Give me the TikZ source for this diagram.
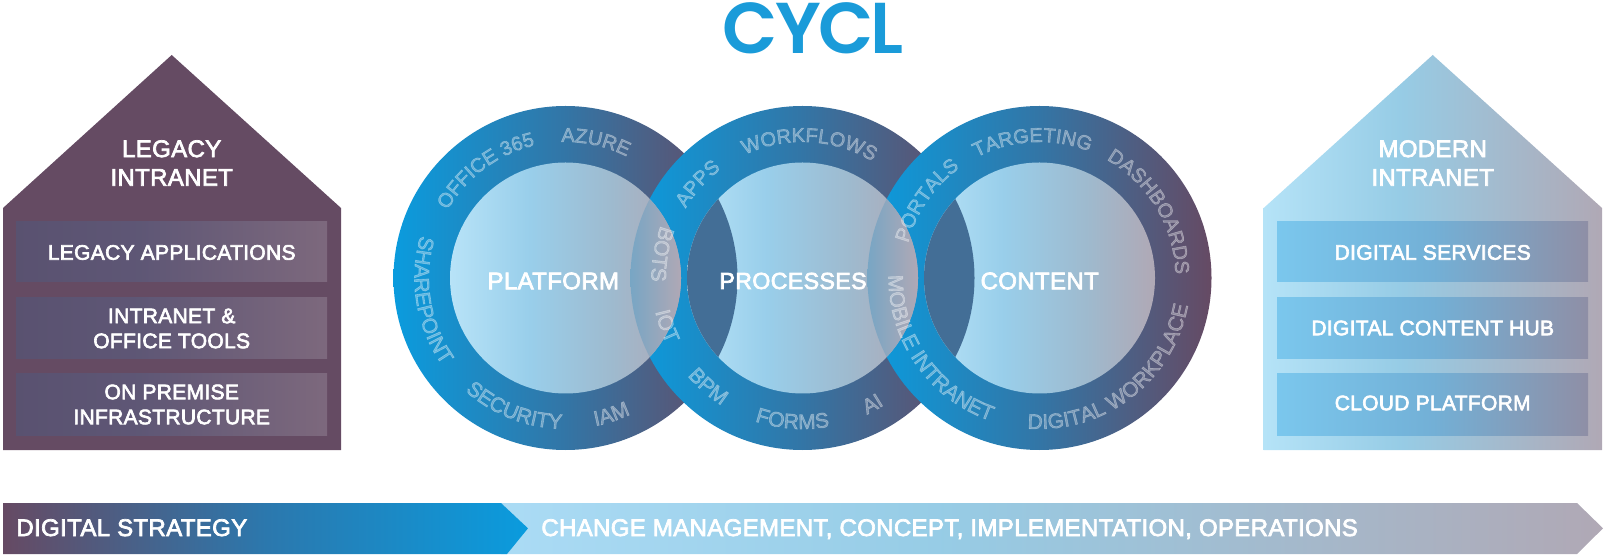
\documentclass[tikz,border=0pt]{standalone}
\usepackage{fontspec}
\usetikzlibrary{decorations.text,calc}
\setmainfont{Liberation Sans}
\newfontfamily\labelfont[LetterSpace=1.5,FakeBold=3]{Liberation Sans}
\newfontfamily\ringfont[FakeBold=3]{Liberation Sans}
\newfontfamily\titlefont[LetterSpace=-4]{Poppins SemiBold}
\definecolor{plum}{HTML}{654B63}
\definecolor{titleblue}{HTML}{1A9BD9}
\definecolor{crescent}{HTML}{436E96}
\pgfdeclarehorizontalshading{ringshade}{100bp}{rgb(0bp)=(0.04,0.61,0.87);rgb(25bp)=(0.04,0.61,0.87);rgb(50bp)=(0.20,0.46,0.65);rgb(75bp)=(0.40,0.29,0.39);rgb(100bp)=(0.40,0.29,0.39)}
\pgfdeclarehorizontalshading{innershade}{100bp}{rgb(0bp)=(0.72,0.89,0.97);rgb(25bp)=(0.72,0.89,0.97);rgb(42bp)=(0.60,0.81,0.92);rgb(60bp)=(0.62,0.73,0.81);rgb(75bp)=(0.69,0.66,0.71);rgb(100bp)=(0.69,0.66,0.71)}
\pgfdeclarehorizontalshading{lensshade}{100bp}{rgb(0bp)=(0.47,0.65,0.77);rgb(25bp)=(0.47,0.65,0.77);rgb(64bp)=(0.47,0.65,0.77);rgb(75bp)=(0.69,0.66,0.71);rgb(100bp)=(0.69,0.66,0.71)}
\pgfdeclarehorizontalshading{houseLshade}{100bp}{rgb(0bp)=(0.35,0.32,0.44);rgb(25bp)=(0.35,0.32,0.44);rgb(45bp)=(0.37,0.34,0.46);rgb(75bp)=(0.49,0.41,0.49);rgb(100bp)=(0.49,0.41,0.49)}
\pgfdeclarehorizontalshading{houseRshade}{100bp}{rgb(0bp)=(0.71,0.89,0.97);rgb(25bp)=(0.71,0.89,0.97);rgb(45bp)=(0.59,0.80,0.90);rgb(75bp)=(0.69,0.66,0.71);rgb(100bp)=(0.69,0.66,0.71)}
\pgfdeclarehorizontalshading{panelRshade}{100bp}{rgb(0bp)=(0.48,0.78,0.93);rgb(25bp)=(0.48,0.78,0.93);rgb(50bp)=(0.45,0.69,0.84);rgb(75bp)=(0.56,0.56,0.65);rgb(100bp)=(0.56,0.56,0.65)}
\pgfdeclarehorizontalshading{arrowBshade}{100bp}{rgb(0bp)=(0.40,0.29,0.39);rgb(25bp)=(0.40,0.29,0.39);rgb(50bp)=(0.17,0.47,0.68);rgb(75bp)=(0.04,0.61,0.87);rgb(100bp)=(0.04,0.61,0.87)}
\pgfdeclarehorizontalshading{arrowLshade}{100bp}{rgb(0bp)=(0.67,0.86,0.96);rgb(25bp)=(0.67,0.86,0.96);rgb(45bp)=(0.59,0.80,0.90);rgb(75bp)=(0.69,0.66,0.71);rgb(100bp)=(0.69,0.66,0.71)}
\tikzset{
  x=0.5pt,y=0.5pt,
  lbl/.style={text=white,align=center,inner sep=0pt,font=\labelfont\fontsize{12}{14.3}\selectfont},
  panellbl/.style={text=white,align=center,inner sep=0pt,font=\labelfont\fontsize{10.5}{12.5}\selectfont},
  ringlabel/.style={decorate,decoration={text along path,text align=center,text={|\ringfont\fontsize{10.5}{12}\selectfont\color{white}|#1}}},
  ringtoplabel/.style={decorate,decoration={text along path,text align=center,text={|\ringfont\fontsize{10}{12}\selectfont\color{white}|#1}}},
}
\newcommand{\outerdisc}[1]{(#1) circle[radius=172]}
\newcommand{\innerdisc}[1]{(#1) circle[radius=115.5]}
\newcommand{\cwtext}[4]{\path[ringtoplabel={#4}] ($(#1)+(#3:136)$) arc[start angle=#3,end angle=#2,radius=136];}
\newcommand{\cctext}[4]{\path[ringlabel={#4}] ($(#1)+(#2:151)$) arc[start angle=#2,end angle=#3,radius=151];}
\begin{document}
\begin{tikzpicture}
\useasboundingbox (0,0) rectangle (1605,557);
\coordinate (cA) at (565.5,279);
\coordinate (cB) at (802.5,279);
\coordinate (cC) at (1039.5,279);
% title
\node[inner sep=0pt,text=titleblue,font=\titlefont\fontsize{36}{40}\selectfont] (title) at (813,529) {CYCL};
% left house
\path[fill=plum] (3,107) -- (3,349) -- (171.7,502) -- (341,349) -- (341,107) -- cycle;
\foreach \yb/\yt in {275/335,198/259,122/183}
  \shade[shading=houseLshade] (16,\yb) rectangle (327,\yt);
\node[lbl] (legacy) at (171.7,394) {LEGACY\\INTRANET};
\node[panellbl] (lapps) at (171.7,304.5) {LEGACY APPLICATIONS};
\node[panellbl] (ltools) at (171.7,228.5) {INTRANET \&\\OFFICE TOOLS};
\node[panellbl] (lprem) at (171.7,152.5) {ON PREMISE\\INFRASTRUCTURE};
% right house
\shade[shading=houseRshade] (1263.7,107) -- (1263.7,349) -- (1432.7,502) -- (1602,349) -- (1602,107) -- cycle;
\foreach \yb/\yt in {275/335,198/259,122/183}
  \shade[shading=panelRshade] (1277,\yb) rectangle (1588,\yt);
\node[lbl] (modern) at (1432.7,394) {MODERN\\INTRANET};
\node[panellbl] (rserv) at (1432.7,304.5) {DIGITAL SERVICES};
\node[panellbl] (rhub) at (1432.7,229) {DIGITAL CONTENT HUB};
\node[panellbl] (rcloud) at (1432.7,154) {CLOUD PLATFORM};
% rings
\shade[shading=ringshade] \outerdisc{cA};
\shade[shading=ringshade] \outerdisc{cB};
\shade[shading=ringshade] \outerdisc{cC};
% inner discs
\shade[shading=innershade] \innerdisc{cA};
\shade[shading=innershade] \innerdisc{cB};
\shade[shading=innershade] \innerdisc{cC};
% crescents
\begin{scope}
  \clip \innerdisc{cB};
  \fill[crescent] \outerdisc{cA};
\end{scope}
\begin{scope}
  \clip \innerdisc{cC};
  \fill[crescent] \outerdisc{cB};
\end{scope}
% lenses
\begin{scope}
  \clip \outerdisc{cB};
  \shade[shading=lensshade] \innerdisc{cA};
\end{scope}
\begin{scope}
  \clip \outerdisc{cC};
  \shade[shading=lensshade] \innerdisc{cB};
\end{scope}
% ring words
\begin{scope}[opacity=.32,text opacity=.32]
\cwtext{cA}{103}{150}{OFFICE 365}
\cwtext{cA}{60}{95}{AZURE}
\cctext{cA}{160}{219}{SHAREPOINT}
\cctext{cA}{225}{272}{SECURITY}
\cctext{cA}{276}{301}{IAM}
\cctext{cB}{155}{186}{BOTS}
\cctext{cB}{188}{211}{IOT}
\cwtext{cB}{124}{152}{APPS}
\cwtext{cB}{57}{117}{WORKFLOWS}
\cctext{cB}{215}{243}{BPM}
\cctext{cB}{248}{284}{FORMS}
\cctext{cB}{289}{309}{AI}
\cwtext{cC}{124}{167}{PORTALS}
\cwtext{cC}{66}{120}{TARGETING}
\cwtext{cC}{0}{62}{DASHBOARDS}
\cctext{cC}{175}{255}{MOBILE INTRANET}
\cctext{cC}{262}{353}{DIGITAL WORKPLACE}
\end{scope}
% big labels
\node[lbl] (platform) at (553.3,276) {PLATFORM};
\node[lbl,font=\labelfont\fontsize{11.6}{14}\selectfont] (processes) at (793,276) {PROCESSES};
\node[lbl] (content) at (1039.7,276) {CONTENT};
% bottom arrows
\shade[shading=arrowLshade] (501,54) -- (1577,54) -- (1603,28.7) -- (1577,3) -- (501,3) -- (528,28.7) -- cycle;
\shade[shading=arrowBshade] (3,54) -- (501,54) -- (528,28.7) -- (507,3) -- (3,3) -- cycle;
\node[lbl,anchor=base west] (strategy) at (16,21) {DIGITAL STRATEGY};
\node[lbl,anchor=base west] (change) at (541,21) {CHANGE MANAGEMENT, CONCEPT, IMPLEMENTATION, OPERATIONS};
\end{tikzpicture}
\end{document}
